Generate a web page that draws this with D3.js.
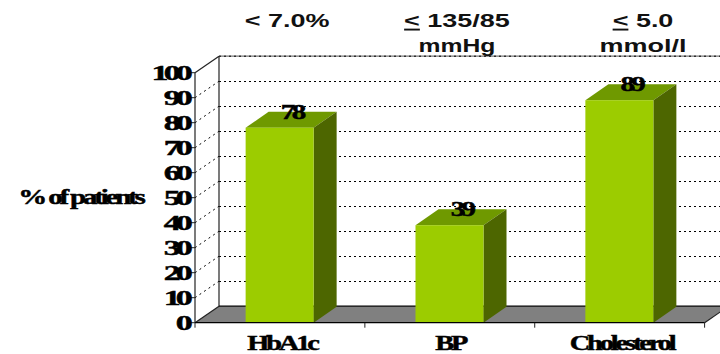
<!DOCTYPE html>
<html>
<head>
<meta charset="utf-8">
<script src="https://cdnjs.cloudflare.com/ajax/libs/d3/7.8.5/d3.min.js"></script>
<style>
html,body{margin:0;padding:0;background:#fff;overflow:hidden}
svg{display:block}
.serif{font-family:"Liberation Serif",serif;font-weight:bold;fill:#000;stroke:#000;stroke-width:0.45}
.sans{font-family:"Liberation Sans",sans-serif;font-weight:bold;fill:#111}
</style>
</head>
<body>
<svg id="chart" width="720" height="354"></svg>
<script>
// Share of patients reaching each treatment target
const categories = ["HbA1c", "BP", "Cholesterol"];
const values = [78, 39, 89];
const yTicks = [0, 10, 20, 30, 40, 50, 60, 70, 80, 90, 100];
const targetMarks = ["<", "<", "<"];
const targetFirstLine = ["7.0%", "135/85", "5.0"];
const targetSecondLine = ["", "mmHg", "mmol/l"];
const yAxisTitle = "% of patients";

const svg = d3.select("#chart");
const depth = {x: 24, y: -16.5};
const barDepth = {x: 23, y: -16};

const xBand = d3.scaleBand().domain(categories).range([195, 704.6]);
const y = d3.scaleLinear().domain([0, 100]).range([322.7, 72.7]);

const barWidth = 68;
const poly = pts => pts.map(p => p.join(",")).join(" ");

// Floor of the 3D plot area
svg.append("polygon")
  .attr("points", poly([[195, y(0)], [704.6, y(0)], [704.6 + depth.x, y(0) + depth.y], [195 + depth.x, y(0) + depth.y]]))
  .attr("fill", "#808080");

// Gridlines along the back and side walls
const grid = yTicks.filter(d => d > 0 && d < 100);
svg.append("g").attr("shape-rendering", "crispEdges").selectAll("line").data(grid).join("line")
  .attr("x1", 195 + depth.x).attr("x2", 720)
  .attr("y1", d => y(d) + depth.y).attr("y2", d => y(d) + depth.y)
  .attr("stroke", "#000").attr("stroke-width", 1).attr("stroke-dasharray", "2,3");
svg.append("g").selectAll("line").data(grid).join("line")
  .attr("x1", 195).attr("x2", 195 + depth.x)
  .attr("y1", d => y(d)).attr("y2", d => y(d) + depth.y)
  .attr("stroke", "#000").attr("stroke-width", 1).attr("stroke-dasharray", "2,3.5");

// Wall outlines
const frame = svg.append("g").attr("stroke", "#222").attr("stroke-width", 1.2).attr("fill", "none");
frame.append("line").attr("x1", 195).attr("x2", 195).attr("y1", y(100)).attr("y2", y(0));
frame.append("line").attr("x1", 195 + depth.x).attr("x2", 195 + depth.x).attr("y1", y(100) + depth.y).attr("y2", y(0) + depth.y);
frame.append("line").attr("x1", 195).attr("x2", 195 + depth.x).attr("y1", y(100)).attr("y2", y(100) + depth.y);
frame.append("line").attr("x1", 195).attr("x2", 195 + depth.x).attr("y1", y(0)).attr("y2", y(0) + depth.y);
frame.append("line").attr("x1", 195 + depth.x).attr("x2", 720).attr("y1", y(100) + depth.y).attr("y2", y(100) + depth.y).attr("stroke", "#777");
svg.append("line").attr("x1", 195 + depth.x).attr("x2", 720).attr("y1", y(100) + depth.y).attr("y2", y(100) + depth.y)
  .attr("stroke", "#000").attr("stroke-dasharray", "2,3");
frame.append("line").attr("x1", 195 + depth.x).attr("x2", 704.6 + depth.x).attr("y1", y(0) + depth.y).attr("y2", y(0) + depth.y).attr("stroke", "#000");
frame.append("line").attr("x1", 704.6).attr("x2", 704.6 + depth.x).attr("y1", y(0)).attr("y2", y(0) + depth.y);

// Bars
const barLeft = c => xBand(c) + (xBand.bandwidth() - barWidth) / 2 - 0.3;
const bars = svg.append("g").selectAll("g").data(categories.map((c, i) => ({c, v: values[i]}))).join("g");
bars.append("polygon").attr("fill", "#6f9900").attr("points", d => {
  const l = barLeft(d.c), r = l + barWidth, t = y(d.v);
  return poly([[l, t], [r, t], [r + barDepth.x, t + barDepth.y], [l + barDepth.x, t + barDepth.y]]);
});
bars.append("polygon").attr("fill", "#4d6600").attr("points", d => {
  const r = barLeft(d.c) + barWidth, t = y(d.v), b = y(0);
  return poly([[r, t], [r + barDepth.x, t + barDepth.y], [r + barDepth.x, b + barDepth.y], [r, b]]);
});
bars.append("rect").attr("fill", "#9ccc00")
  .attr("x", d => barLeft(d.c)).attr("width", barWidth)
  .attr("y", d => y(d.v)).attr("height", d => y(0) - y(d.v));

// Baseline and category ticks
svg.append("line").attr("x1", 195).attr("x2", 704.6).attr("y1", y(0)).attr("y2", y(0)).attr("stroke", "#000").attr("stroke-width", 1.2);
const boundaries = categories.map(c => xBand(c)).concat(704.6);
svg.append("g").selectAll("line").data(boundaries).join("line")
  .attr("x1", d => d).attr("x2", d => d).attr("y1", y(0)).attr("y2", y(0) + 5)
  .attr("stroke", "#222");

// Text with the wide, tightly packed look of the chart's labels
function wide(cls, cx, base, str, size, sx, spacing, anchor) {
  return svg.append("text").attr("class", cls)
    .attr("transform", `translate(${cx},${base}) scale(${sx},1)`)
    .attr("text-anchor", anchor || "middle")
    .style("font-size", size + "px")
    .style("letter-spacing", spacing + "px")
    .text(str);
}

// Value axis
svg.append("g").selectAll("line").data(yTicks).join("line")
  .attr("x1", 190).attr("x2", 195).attr("y1", d => y(d)).attr("y2", d => y(d)).attr("stroke", "#222");
yTicks.forEach(t => wide("serif", 188, y(t) + 7, t, 21, 1.62, -3, "end"));

wide("serif", 80.5, 204, yAxisTitle, 20, 1.45, -2.2);
categories.forEach((c, i) => {
  wide("serif", xBand(c) + xBand.bandwidth() / 2 + [2, 0.5, 2][i], 349.6, c, 20, 1.42, -2.2);
});
values.forEach((v, i) => {
  wide("serif", barLeft(categories[i]) + barWidth / 2 + 12, y(v) - 9, v, 20, 1.45, -2.5);
});

// Target values above each bar
const targetCentres = [287, 457, 643];
const secondLineStretch = [1, 1.3, 1.42];
function target(cx, base, sx) {
  return svg.append("text").attr("class", "sans")
    .attr("transform", `translate(${cx},${base}) scale(${sx},1)`)
    .attr("text-anchor", "middle").style("font-size", "19px");
}
categories.forEach((c, i) => {
  const first = target(targetCentres[i], 27, 1.42);
  const mark = first.append("tspan").text(targetMarks[i]);
  if (i > 0) mark.style("text-decoration", "underline");
  first.append("tspan").text(" " + targetFirstLine[i]);
  if (targetSecondLine[i]) target(targetCentres[i], 52, secondLineStretch[i]).text(targetSecondLine[i]);
});
</script>
</body>
</html>
